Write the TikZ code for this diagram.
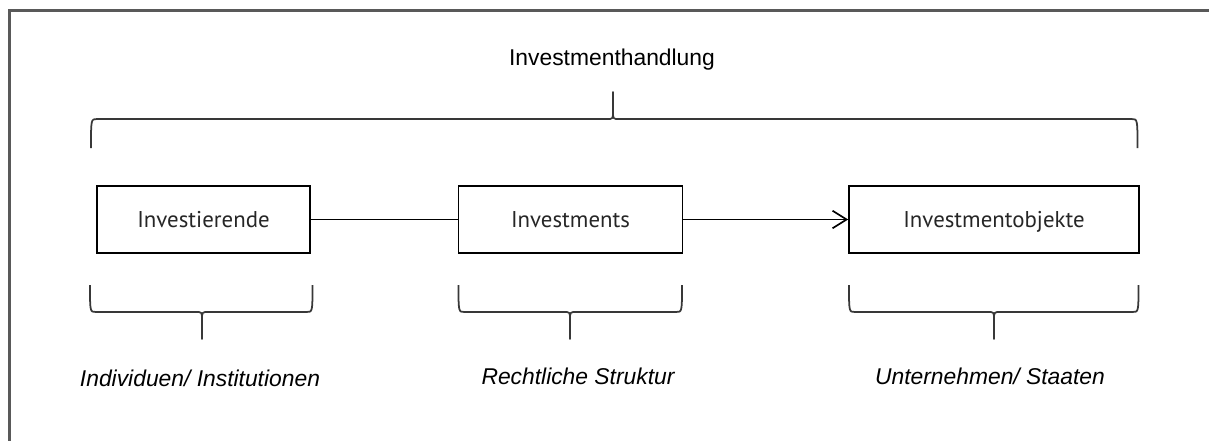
\documentclass[tikz,border=0pt]{standalone}
\usepackage{fontspec}
\setmainfont{Liberation Sans}
\newfontfamily\stagefont{PT Sans}
\usetikzlibrary{arrows.meta}
\colorlet{framecol}{black!65}
\colorlet{bracecol}{black!78}
\tikzstyle{stage}=[draw,line width=0.95pt,minimum height=1.34cm,inner sep=0pt,text height=9pt,text depth=0pt,text=black!85,font=\stagefont\fontsize{13}{15}\selectfont]
\tikzstyle{brace}=[bracecol,line width=1pt,line join=round]
\tikzstyle{link}=[line width=0.95pt]
\tikzstyle{role}=[anchor=base,inner sep=0pt,font=\itshape\fontsize{13}{15}\selectfont]
% brace under a box: left x, right x, tip x
\newcommand{\bracebelow}[3]{%
  \draw[brace] (#1,-5.70) .. controls (#1,-6.24) .. (#1+0.12,-6.24)
    -- (#3-0.12,-6.24) .. controls (#3,-6.24) .. (#3,-6.40) -- (#3,-6.78)
    -- (#3,-6.40) .. controls (#3,-6.24) .. (#3+0.12,-6.24)
    -- (#2-0.12,-6.24) .. controls (#2,-6.24) .. (#2,-5.70);}

\begin{document}
\begin{tikzpicture}
  \useasboundingbox (0,0) rectangle (24.18,-8.82);
  % frame (only top and left edge visible)
  \draw[framecol,line width=1.15pt] (24.18,-0.21) -- (0.19,-0.21) -- (0.19,-8.82);
  % title and the brace over all three boxes
  \node[role,font=\fontsize{13}{15}\selectfont] (title) at (12.24,-1.30) {Investmenthandlung};
  \draw[brace] (1.82,-2.96) .. controls (1.82,-2.38) .. (1.94,-2.38)
    -- (12.14,-2.38) .. controls (12.26,-2.38) .. (12.26,-2.22) -- (12.26,-1.84)
    -- (12.26,-2.22) .. controls (12.26,-2.38) .. (12.38,-2.38)
    -- (22.63,-2.38) .. controls (22.75,-2.38) .. (22.75,-2.96);
  % Boxes
  \node[stage,minimum width=4.27cm] (inv) at (4.07,-4.39) {Investierende};
  \node[stage,minimum width=4.48cm] (ment) at (11.41,-4.39) {Investments};
  \node[stage,minimum width=5.80cm] (obj) at (19.88,-4.39) {Investmentobjekte};
  \draw[link] (inv) -- (ment);
  \draw[link,-{Straight Barb[length=8pt,width=10pt]}] (ment) -- (obj);
  % braces below the boxes
  \bracebelow{1.80}{6.25}{4.04}
  \bracebelow{9.17}{13.64}{11.40}
  \bracebelow{16.98}{22.77}{19.88}
  % what each box stands for
  \node[role] (who) at (4.00,-7.73) {Individuen/ Institutionen};
  \node[role] (how) at (11.56,-7.68) {Rechtliche Struktur};
  \node[role] (what) at (19.80,-7.68) {Unternehmen/ Staaten};
\end{tikzpicture}
\end{document}
